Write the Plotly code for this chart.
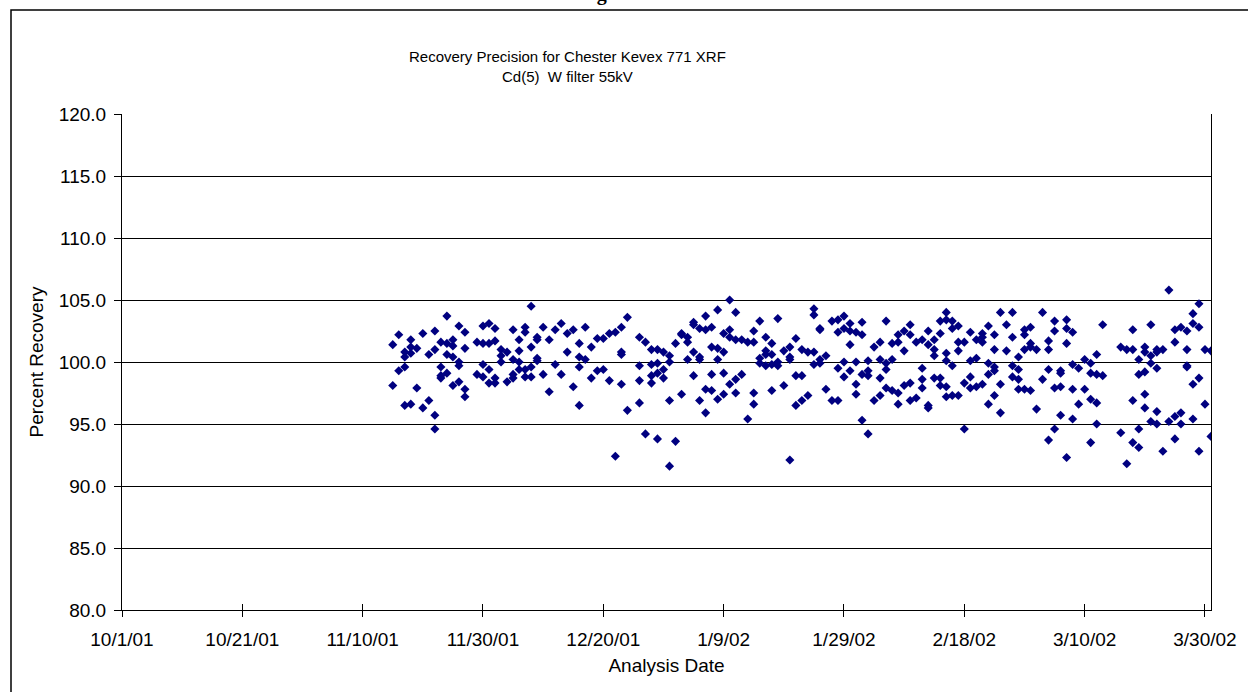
import plotly.graph_objects as go

analysis_dates = [
    "2001-11-15", "2001-11-16", "2001-11-17", "2001-11-18", "2001-11-19", "2001-11-20",
    "2001-11-21", "2001-11-22", "2001-11-23", "2001-11-24", "2001-11-25", "2001-11-26",
    "2001-11-27", "2001-11-29", "2001-11-30", "2001-12-01", "2001-12-02", "2001-12-03",
    "2001-12-04", "2001-12-05", "2001-12-06", "2001-12-07", "2001-12-08", "2001-12-09",
    "2001-12-10", "2001-12-11", "2001-12-12", "2001-12-13", "2001-12-14", "2001-12-15",
    "2001-12-16", "2001-12-17", "2001-12-18", "2001-12-19", "2001-12-20", "2001-12-21",
    "2001-12-22", "2001-12-23", "2001-12-24", "2001-12-26", "2001-12-27", "2001-12-28",
    "2001-12-29", "2001-12-30", "2001-12-31", "2002-01-01", "2002-01-02", "2002-01-03",
    "2002-01-04", "2002-01-05", "2002-01-06", "2002-01-07", "2002-01-08", "2002-01-09",
    "2002-01-10", "2002-01-11", "2002-01-12", "2002-01-13", "2002-01-14", "2002-01-15",
    "2002-01-16", "2002-01-17", "2002-01-18", "2002-01-19", "2002-01-20", "2002-01-21",
    "2002-01-22", "2002-01-23", "2002-01-24", "2002-01-25", "2002-01-26", "2002-01-27",
    "2002-01-28", "2002-01-29", "2002-01-30", "2002-01-31", "2002-02-01", "2002-02-02",
    "2002-02-03", "2002-02-04", "2002-02-05", "2002-02-06", "2002-02-07", "2002-02-08",
    "2002-02-09", "2002-02-10", "2002-02-11", "2002-02-12", "2002-02-13", "2002-02-14",
    "2002-02-15", "2002-02-16", "2002-02-17", "2002-02-18", "2002-02-19", "2002-02-20",
    "2002-02-21", "2002-02-22", "2002-02-23", "2002-02-24", "2002-02-25", "2002-02-26",
    "2002-02-27", "2002-02-28", "2002-03-01", "2002-03-02", "2002-03-03", "2002-03-04",
    "2002-03-05", "2002-03-06", "2002-03-07", "2002-03-08", "2002-03-09", "2002-03-10",
    "2002-03-11", "2002-03-12", "2002-03-13", "2002-03-16", "2002-03-17", "2002-03-18",
    "2002-03-19", "2002-03-20", "2002-03-21", "2002-03-22", "2002-03-23", "2002-03-24",
    "2002-03-25", "2002-03-26", "2002-03-27", "2002-03-28", "2002-03-29", "2002-03-30",
    "2002-03-31",
]

daily_recoveries = [
    [101.4, 98.1], [102.2, 99.3], [100.8, 100.4, 99.6, 96.5], [101.8, 101.2, 100.7, 96.6],
    [101.1, 97.9], [102.3, 96.3],
    [100.6, 96.9], [102.5, 101.0, 95.7, 94.6], [101.6, 99.6, 98.9, 98.7], [103.7, 101.5, 100.6, 99.1],
    [101.8, 101.3, 100.4, 98.1], [102.9, 100.0, 99.7, 98.4],
    [102.4, 101.1, 97.8, 97.2], [101.6, 99.0], [102.9, 101.5, 99.8, 98.8], [103.1, 101.5, 99.4, 98.3],
    [102.7, 101.7, 98.7, 98.3], [101.0, 100.5, 100.0],
    [100.8, 98.4], [102.6, 100.2, 99.0, 98.7], [101.8, 100.9, 100.0, 99.4], [102.8, 102.4, 99.4, 98.8],
    [104.5, 101.2, 99.6, 98.8], [102.0, 101.8, 100.3, 100.1],
    [102.8, 99.0], [101.8, 97.6], [102.6, 99.8], [103.1, 99.0], [102.3, 100.8], [102.6, 98.0],
    [101.5, 100.4, 99.6, 96.5], [102.8, 100.2], [101.2, 98.7], [101.9, 99.3], [101.9, 99.4], [102.3, 98.5],
    [102.4, 92.4], [102.8, 100.8, 100.6, 98.2], [103.6, 96.1], [102.0, 99.7, 98.5, 96.7], [101.6, 94.2],
    [101.0, 99.8, 98.9, 98.3],
    [101.0, 99.9, 99.1, 93.8], [100.8, 99.4, 98.7], [100.5, 100.0, 96.9, 91.6], [101.5, 93.6],
    [102.3, 102.2, 97.4], [102.0, 101.6, 100.2],
    [103.2, 103.0, 100.8, 98.9], [102.7, 100.4, 100.2, 96.9], [103.7, 102.6, 97.8, 95.9],
    [102.8, 101.2, 99.0, 97.7], [104.2, 101.1, 100.2, 97.0], [102.3, 100.8, 99.1, 97.4],
    [105.0, 102.6, 102.0, 98.2], [104.0, 101.8, 98.6, 97.5], [101.8, 99.0], [101.6, 95.4],
    [102.5, 101.6, 97.5, 96.6], [103.3, 100.3, 99.9],
    [102.0, 100.9, 100.6, 99.7], [101.5, 100.6, 99.8, 97.7], [103.5, 100.0, 99.7], [100.9, 98.1],
    [101.2, 100.4, 100.2, 92.1], [101.9, 98.9, 96.5],
    [101.0, 98.9, 96.9], [100.8, 97.3], [104.3, 103.8, 100.8, 99.8], [102.7, 102.6, 100.2, 99.9],
    [100.5, 97.8], [103.3, 96.9],
    [103.4, 102.4, 99.5, 96.9], [103.7, 102.7, 100.0, 98.8], [103.1, 102.5, 101.4, 99.3],
    [102.4, 100.0, 98.2, 97.4], [103.2, 102.2, 99.0, 95.3], [100.1, 99.3, 98.9, 94.2],
    [101.2, 96.9], [101.6, 100.2, 98.7, 97.3], [103.3, 99.9, 99.4, 97.9], [101.5, 100.2, 97.7],
    [102.2, 101.6, 97.5, 96.6], [102.5, 100.9, 98.1],
    [103.0, 102.2, 98.3, 96.9], [101.6, 97.1], [101.8, 99.5, 98.6, 97.9], [102.5, 101.4, 96.5, 96.3],
    [101.8, 101.0, 100.5, 98.7], [103.3, 102.3, 98.7, 98.1],
    [104.0, 103.4, 100.7, 100.1, 98.0, 97.2], [103.3, 102.7, 99.7, 97.3], [102.9, 101.6, 100.9, 97.3],
    [101.6, 98.3, 94.6], [102.4, 100.1, 98.8, 97.9], [101.8, 100.3, 98.0],
    [102.3, 102.0, 101.6, 98.2], [102.9, 99.9, 99.0, 96.6], [102.2, 101.0, 99.6, 99.3, 97.3],
    [104.0, 98.2, 95.9], [103.0, 100.9], [104.0, 102.0, 99.7, 98.8],
    [100.4, 99.4, 98.6, 97.8], [102.6, 102.2, 101.0, 97.8], [102.8, 101.5, 101.2, 97.7],
    [101.0, 96.2], [104.0, 98.6], [101.7, 101.0, 99.4, 93.7],
    [103.3, 102.5, 97.9, 94.6], [99.3, 99.1, 98.0, 95.7], [103.4, 102.7, 101.5, 92.3],
    [102.4, 99.8, 97.8, 95.4], [99.5, 96.6], [100.2, 97.8],
    [99.9, 99.1, 97.0, 93.5], [100.6, 99.0, 96.7, 95.0], [103.0, 98.9], [101.2, 94.3],
    [101.0, 91.8], [102.6, 101.0, 96.9, 93.5],
    [100.2, 99.0, 94.6, 93.1], [101.2, 100.8, 99.2, 97.4, 96.3], [103.0, 100.5, 99.9, 95.2],
    [101.0, 100.8, 99.5, 96.0, 95.0], [101.0, 92.8], [105.8, 95.2],
    [102.6, 101.6, 95.6, 93.8], [102.8, 95.9, 95.0], [102.5, 101.0, 99.7, 99.6],
    [103.9, 103.1, 98.2, 95.4], [104.7, 102.8, 98.7, 92.8], [101.0, 96.6],
    [100.9, 94.0],
]

tick_dates = ["2001-10-01", "2001-10-21", "2001-11-10", "2001-11-30", "2001-12-20",
              "2002-01-09", "2002-01-29", "2002-02-18", "2002-03-10", "2002-03-30"]
tick_labels = ["10/1/01", "10/21/01", "11/10/01", "11/30/01", "12/20/01",
               "1/9/02", "1/29/02", "2/18/02", "3/10/02", "3/30/02"]
y_ticks = [80, 85, 90, 95, 100, 105, 110, 115, 120]

title_line1 = "Recovery Precision for Chester Kevex 771 XRF"
title_line2 = "Cd(5)  W filter 55kV"

# expand the per-day groups into point lists
xs, ys = [], []
for d, vals in zip(analysis_dates, daily_recoveries):
    for v in vals:
        xs.append(d)
        ys.append(v)

FONT = "Liberation Sans, Arial, sans-serif"
W, H = 1248, 692
L, R, T, B = 122, 37, 114, 82
PW, PH = W - L - R, H - T - B


def px(xpix):
    return (xpix - L) / PW


def py(ypix):
    return (H - B - ypix) / PH


fig = go.Figure()
fig.add_trace(go.Scatter(
    x=xs, y=ys, mode="markers",
    marker=dict(symbol="diamond", size=7, color="#000080", line=dict(width=0)),
    hoverinfo="x+y", showlegend=False,
))
# empty trace to host the overlay axis that draws the inner half of the x tick marks
fig.add_trace(go.Scatter(x=[], y=[], xaxis="x2", yaxis="y", showlegend=False, hoverinfo="skip"))

x_range = ["2001-10-01", "2002-03-31"]

fig.update_layout(
    width=W, height=H,
    margin=dict(l=L, r=R, t=T, b=B, pad=0),
    paper_bgcolor="white", plot_bgcolor="white",
    font=dict(family=FONT, color="black", size=19),
    xaxis=dict(
        type="date", range=x_range,
        tickvals=tick_dates, ticktext=tick_labels,
        ticks="outside", ticklen=6, tickwidth=1, tickcolor="black",
        ticklabelstandoff=6,
        showline=True, linecolor="black", linewidth=1,
        showgrid=False, zeroline=False,
        tickfont=dict(size=19, family=FONT),
        title=dict(text="Analysis Date", font=dict(size=19, family=FONT), standoff=9),
    ),
    xaxis2=dict(
        type="date", range=x_range, overlaying="x", anchor="y", side="bottom",
        tickvals=tick_dates, ticks="inside", ticklen=6, tickwidth=1, tickcolor="black",
        showticklabels=False, showgrid=False, showline=False, zeroline=False,
    ),
    yaxis=dict(
        range=[80, 120], tickvals=y_ticks, tickformat=".1f",
        ticks="outside", ticklen=7, tickwidth=1, tickcolor="black",
        ticklabelstandoff=4,
        showline=True, linecolor="black", linewidth=1, mirror=True,
        showgrid=True, gridcolor="black", gridwidth=1, zeroline=False,
        tickfont=dict(size=19, family=FONT),
        title=dict(text="Percent Recovery", font=dict(size=19, family=FONT), standoff=10),
    ),
    shapes=[
        dict(type="rect", xref="paper", yref="paper",
             x0=px(11), x1=px(1300), y0=py(760), y1=py(10),
             line=dict(color="black", width=1.5), fillcolor="rgba(0,0,0,0)", layer="below"),
    ],
    annotations=[
        dict(text=title_line1, xref="paper", yref="paper", x=px(567), y=py(57),
             xanchor="center", yanchor="middle", showarrow=False,
             font=dict(size=15, family=FONT)),
        dict(text=title_line2, xref="paper", yref="paper", x=px(567), y=py(77),
             xanchor="center", yanchor="middle", showarrow=False,
             font=dict(size=15, family=FONT)),
        dict(text="<b>Figure 8</b>", xref="paper", yref="paper", x=px(614), y=py(7),
             xanchor="center", yanchor="bottom", showarrow=False,
             font=dict(size=20, family="Liberation Serif, Times New Roman, serif")),
    ],
)

fig.write_html("out.html")
